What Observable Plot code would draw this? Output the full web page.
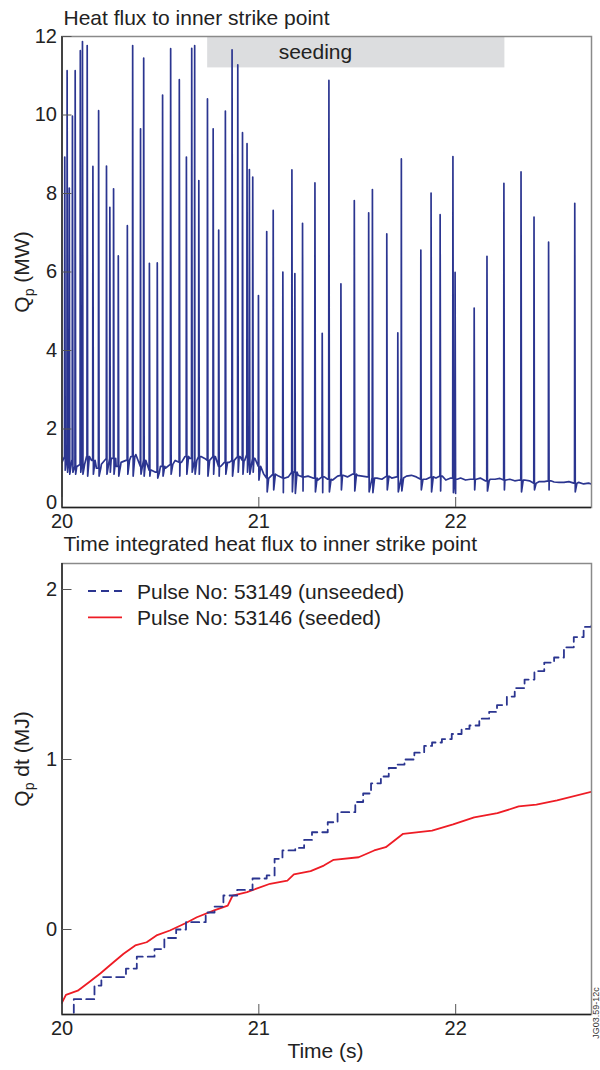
<!DOCTYPE html>
<html><head><meta charset="utf-8">
<script src="https://cdn.jsdelivr.net/npm/d3@7"></script>
<script src="https://cdn.jsdelivr.net/npm/@observablehq/plot@0.6"></script>
<style>
body{margin:0;background:#fff;}
#wrap{width:600px;height:1070px;position:relative;overflow:hidden;background:#fff}
#wrap svg{display:block}
</style></head><body><div id="wrap"></div>
<script>
// ---------- Panel 1: heat flux to inner strike point (seeded pulse) ----------
const timeTicks = [20, 21, 22];
const fluxTicks = [2, 4, 6, 8, 10, 12];
const fluxZeroTick = [0];
const seedStart = 20.74, seedEnd = 22.25;
const seedLabel = "seeding";

// ELM spike times (s), peak values (MW), post-ELM dip (MW)
const elmT = [20.014,20.026,20.037,20.053,20.067,20.093,20.104,20.128,20.157,20.186,20.226,20.243,20.262,20.286,20.332,20.359,20.399,20.415,20.444,20.484,20.511,20.552,20.596,20.632,20.659,20.674,20.695,20.739,20.768,20.796,20.830,20.864,20.893,20.917,20.940,20.952,20.969,20.998,21.040,21.073,21.122,21.168,21.183,21.222,21.285,21.322,21.356,21.417,21.485,21.558,21.577,21.650,21.706,21.724,21.823,21.875,21.921,21.986,21.997,22.094,22.159,22.245,22.332,22.398,22.472,22.605];
const elmPeak = [8.93,11.13,8.14,9.97,11.13,11.64,11.87,11.77,8.69,10.11,8.70,7.65,8.12,6.41,7.18,11.77,9.65,11.45,6.22,6.23,10.51,11.69,10.90,8.93,11.70,11.77,8.33,10.41,9.65,7.07,10.10,11.66,11.28,9.55,9.27,8.61,8.42,5.40,7.03,7.57,6.00,8.60,5.96,7.24,8.27,4.44,10.88,5.70,7.82,7.51,8.10,6.97,4.45,8.88,6.56,8.01,7.46,8.94,5.99,5.08,6.40,8.26,8.55,7.40,6.76,7.75];
const elmDip = [0.95,0.9,0.85,0.9,0.85,0.9,0.85,0.8,0.85,0.8,0.85,0.9,0.85,0.8,0.85,0.8,0.85,0.8,0.8,0.75,0.8,0.85,0.8,0.85,0.9,0.85,0.85,0.8,0.85,0.8,0.85,0.8,0.9,0.85,0.9,0.85,0.9,0.7,0.4,0.45,0.38,0.4,0.36,0.42,0.4,0.38,0.4,0.45,0.42,0.4,0.38,0.45,0.4,0.42,0.45,0.4,0.42,0.38,0.36,0.45,0.42,0.45,0.4,0.45,0.45,0.4];
// inter-ELM baseline (MW), read every 0.025 s
const baseT = [20.000,20.025,20.050,20.075,20.100,20.125,20.150,20.175,20.200,20.225,20.250,20.275,20.300,20.325,20.350,20.375,20.400,20.425,20.450,20.475,20.500,20.525,20.550,20.575,20.600,20.625,20.650,20.675,20.700,20.725,20.750,20.775,20.800,20.825,20.850,20.875,20.900,20.925,20.950,20.975,21.000,21.025,21.050,21.075,21.100,21.125,21.150,21.175,21.200,21.225,21.250,21.275,21.300,21.325,21.350,21.375,21.400,21.425,21.450,21.475,21.500,21.525,21.550,21.575,21.600,21.625,21.650,21.675,21.700,21.725,21.750,21.775,21.800,21.825,21.850,21.875,21.900,21.925,21.950,21.975,22.000,22.025,22.050,22.075,22.100,22.125,22.150,22.175,22.200,22.225,22.250,22.275,22.300,22.325,22.350,22.375,22.400,22.425,22.450,22.475,22.500,22.525,22.550,22.575,22.600,22.625,22.650,22.675,22.690];
const baseV = [1.15,1.3,1.2,1.05,1.1,1.3,1.2,1.0,1.1,1.25,1.25,1.05,1.15,1.2,1.3,1.35,1.05,1.2,0.95,0.9,1.05,1.0,1.1,1.2,1.15,1.3,1.25,1.2,1.3,1.25,1.2,1.3,1.05,1.15,1.15,1.2,1.3,1.2,1.35,1.25,1.05,0.85,0.75,0.85,0.8,0.75,0.78,0.9,0.82,0.78,0.8,0.75,0.7,0.78,0.72,0.7,0.8,0.82,0.78,0.85,0.82,0.8,0.78,0.75,0.75,0.72,0.8,0.75,0.78,0.75,0.8,0.82,0.78,0.72,0.72,0.78,0.75,0.8,0.7,0.75,0.72,0.75,0.7,0.72,0.72,0.75,0.68,0.72,0.72,0.74,0.7,0.72,0.68,0.7,0.7,0.68,0.62,0.66,0.66,0.68,0.65,0.64,0.64,0.66,0.62,0.64,0.6,0.62,0.6];

// ---------- Panel 2: time-integrated heat flux ----------
const energyTicks = [0, 1, 2];
const unseededLabel = "Pulse No: 53149 (unseeded)";
const seededLabel = "Pulse No: 53146 (seeded)";
const unseededT = [20.02,20.06,20.165,20.2,20.325,20.38,20.47,20.52,20.58,20.63,20.73,20.775,20.82,20.89,20.968,21.04,21.08,21.12,21.185,21.23,21.27,21.35,21.40,21.49,21.53,21.57,21.62,21.66,21.70,21.74,21.79,21.84,21.88,21.93,21.98,22.03,22.07,22.12,22.17,22.21,22.26,22.30,22.35,22.40,22.45,22.50,22.55,22.60,22.65,22.69];
const unseededV = [-0.52,-0.41,-0.33,-0.28,-0.23,-0.16,-0.115,-0.05,0.0,0.043,0.10,0.135,0.2,0.233,0.30,0.318,0.416,0.465,0.48,0.527,0.572,0.631,0.69,0.75,0.80,0.86,0.90,0.95,0.97,1.00,1.04,1.08,1.10,1.12,1.15,1.18,1.20,1.24,1.28,1.32,1.37,1.42,1.47,1.52,1.57,1.60,1.66,1.72,1.78,1.81];
const seededT = [20.0,20.02,20.08,20.137,20.196,20.254,20.313,20.372,20.43,20.48,20.548,20.627,20.685,20.773,20.842,20.867,20.94,21.057,21.145,21.178,21.263,21.33,21.38,21.507,21.586,21.645,21.733,21.88,21.987,22.094,22.212,22.32,22.41,22.515,22.69];
const seededV = [-0.43,-0.384,-0.36,-0.31,-0.257,-0.2,-0.143,-0.094,-0.075,-0.035,-0.006,0.037,0.072,0.112,0.141,0.2,0.22,0.269,0.288,0.324,0.343,0.376,0.41,0.425,0.465,0.484,0.563,0.582,0.618,0.66,0.684,0.724,0.735,0.76,0.81];

// ---------- build tables ----------
const trace = baseT.map((t, i) => ({t, v: baseV[i]}));
elmT.forEach((t, i) => {
  const j = d3.minIndex(baseT, b => Math.abs(b - t));
  trace.push({t: t - 0.0012, v: baseV[j]});
  trace.push({t, v: elmPeak[i]});
  trace.push({t: t + 0.0025, v: elmDip[i]});
  const next = i + 1 < elmT.length ? elmT[i + 1] : Infinity;
  if (next - t > 0.02) trace.push({t: t + 0.011, v: baseV[j]});
});
trace.sort((a, b) => a.t - b.t);
const unseeded = unseededT.map((t, i) => ({t, v: unseededV[i]}));
const seeded = seededT.map((t, i) => ({t, v: seededV[i]}));

const FONT = '"Liberation Sans", Arial, Helvetica, sans-serif';
const INK = "#222";
const BLUE = "#2b3590";
const RED = "#ee1c25";
const xDomain = [20, 22.69];

function frameMarks(x0, y0) {
  return [
    Plot.frame({stroke: "#8a8a8a", strokeWidth: 1.5}),
    Plot.ruleX([x0], {stroke: INK, strokeWidth: 1.5}),
    Plot.ruleY([y0], {stroke: INK, strokeWidth: 1.5})
  ];
}

const topPlot = Plot.plot({
  width: 600, height: 535,
  marginLeft: 61.5, marginRight: 9, marginTop: 36, marginBottom: 28,
  style: {fontFamily: FONT, fontSize: "20px", color: INK, background: "white", overflow: "visible"},
  x: {domain: xDomain},
  y: {domain: [0, 12]},
  marks: [
    Plot.rect([{a: seedStart, b: seedEnd}], {x1: "a", x2: "b", y1: 11.2, y2: 12, fill: "#dcdddf", insetTop: 1}),
    Plot.text([seedLabel], {x: seedStart, y: 12, text: d => d, textAnchor: "start", lineAnchor: "bottom", dx: 71, dy: 22, fontSize: 21, fill: INK}),
    Plot.line(trace, {x: "t", y: "v", stroke: BLUE, strokeWidth: 1.7, clip: true}),
    ...frameMarks(20, 0),
    Plot.axisY({ticks: fluxTicks, tickSize: -10, tickPadding: 15, label: null, stroke: "#555", tickFormat: d => d}),
    Plot.axisY({ticks: fluxZeroTick, tickSize: 0, tickPadding: 5, dy: -5, label: null, tickFormat: d => d}),
    Plot.axisX({ticks: timeTicks, tickSize: -10, tickPadding: 16, label: null, stroke: "#555", tickFormat: d => d})
  ]
});

const botPlot = Plot.plot({
  width: 600, height: 535,
  marginLeft: 61.5, marginRight: 9, marginTop: 28, marginBottom: 56,
  style: {fontFamily: FONT, fontSize: "20px", color: INK, background: "white", overflow: "visible"},
  x: {domain: xDomain},
  y: {domain: [-0.5, 2.153]},
  marks: [
    Plot.line(seeded, {x: "t", y: "v", stroke: RED, strokeWidth: 1.8, clip: true}),
    Plot.line(unseeded, {x: "t", y: "v", curve: "step-after", stroke: BLUE, strokeWidth: 1.8, strokeDasharray: "8,5", clip: true}),
    ...frameMarks(20, -0.5),
    Plot.axisY({ticks: energyTicks, tickSize: -10, tickPadding: 15, label: null, stroke: "#555", tickFormat: d => d}),
    Plot.axisX({ticks: timeTicks, tickSize: -10, tickPadding: 16, label: null, stroke: "#555", tickFormat: d => d})
  ]
});

const wrap = document.getElementById("wrap");
wrap.appendChild(topPlot);
wrap.appendChild(botPlot);

function addText(svg, x, y, str, opts = {}) {
  return d3.select(svg).append("text")
    .attr("x", x).attr("y", y)
    .attr("font-family", FONT).attr("font-size", opts.size || 21)
    .attr("fill", opts.fill || INK)
    .attr("text-anchor", opts.anchor || "start")
    .text(str);
}
function addYLabel(svg, x, y, main, rest) {
  const t = d3.select(svg).append("text")
    .attr("transform", `translate(${x},${y}) rotate(-90)`)
    .attr("font-family", FONT).attr("font-size", 21).attr("fill", INK)
    .attr("text-anchor", "middle");
  t.append("tspan").text(main);
  t.append("tspan").attr("font-size", 14).attr("dy", 5).text("p");
  t.append("tspan").attr("dy", -5).text(rest);
}

// titles & axis labels
addText(topPlot, 63.5, 25, "Heat flux to inner strike point");
addYLabel(topPlot, 29, 272, "Q", " (MW)");

addText(botPlot, 63.5, 16, "Time integrated heat flux to inner strike point");
addYLabel(botPlot, 29, 224, "Q", " dt (MJ)");
addText(botPlot, 325.5, 523, "Time (s)", {anchor: "middle"});

// legend
const bs = d3.select(botPlot);
bs.append("line").attr("x1", 88).attr("x2", 122).attr("y1", 56).attr("y2", 56)
  .attr("stroke", BLUE).attr("stroke-width", 1.8).attr("stroke-dasharray", "8,5");
addText(botPlot, 137, 63.5, unseededLabel);
bs.append("line").attr("x1", 88).attr("x2", 122).attr("y1", 82.3).attr("y2", 82.3)
  .attr("stroke", RED).attr("stroke-width", 1.8);
addText(botPlot, 137, 89.8, seededLabel);

// figure id (rotated, at right edge)
d3.select(botPlot).append("text")
  .attr("transform", "translate(599,478) rotate(-90)")
  .attr("font-family", FONT).attr("font-size", 9).attr("fill", "#333")
  .text("JG03.59-12c");
</script>
</body></html>
